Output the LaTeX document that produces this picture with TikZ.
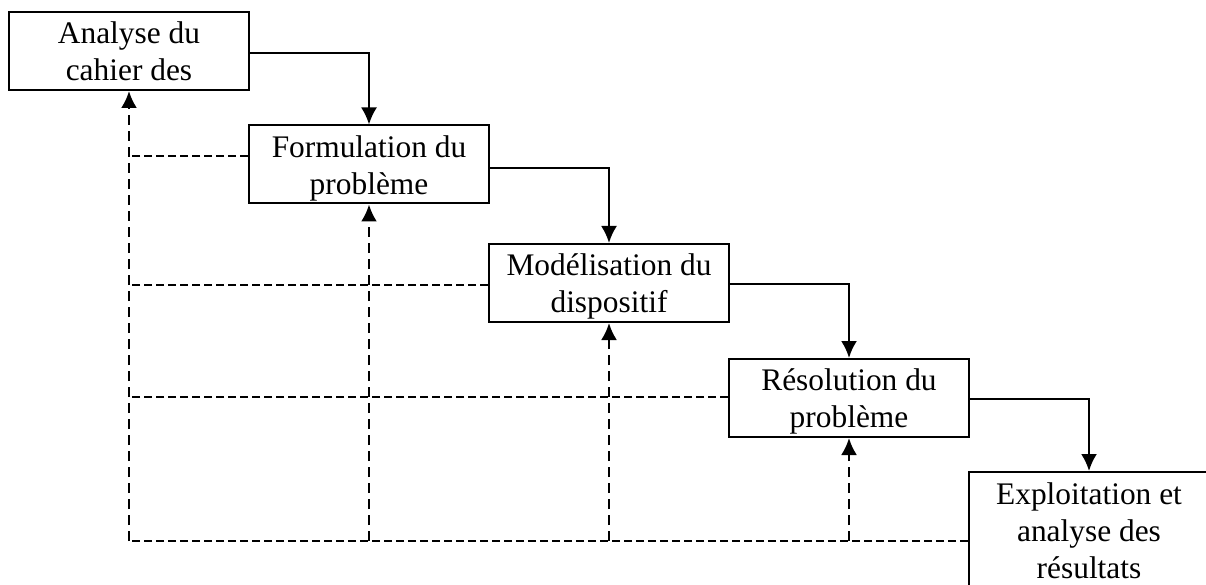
\documentclass[tikz,border=0pt]{standalone}
\usepackage{fontspec}
\setmainfont{Liberation Serif}
\usetikzlibrary{arrows.meta}

\tikzset{
	boite/.style={draw, line width=2pt, minimum width=240pt, minimum height=78pt, inner sep=0pt, align=center, text height=59.5pt, text depth=0pt, font=\fontsize{31.4}{37}\selectfont},
	suite/.style={line width=2.3pt, -{Latex[length=17pt,width=16pt]}},
	retour/.style={line width=1.7pt, dash pattern=on 8pt off 4pt},
	montee/.style={line width=2.5pt, dash pattern=on 10pt off 6pt, -{Latex[length=17pt,width=16pt]}}
}

\begin{document}
\begin{tikzpicture}[x=1pt, y=-1pt]
		\useasboundingbox (0,0) rectangle (1206,585);
		
		% Etapes
		\node[boite] (analyse) at (129,51) {Analyse du\\cahier des};
		\node[boite] (formul) at (369,164.5) {Formulation du\\problème};
		\node[boite] (model) at (609,283) {Modélisation du\\dispositif};
		\node[boite] (resol) at (849,398) {Résolution du\\problème};
		\node[boite, minimum height=122pt, text height=91pt] (exploit) at (1089,533) {Exploitation et\\analyse des\\résultats};
		
		% Enchainement
		\draw[suite] ([yshift=-2pt]analyse.east) -| (formul.north);
		\draw[suite] ([yshift=-3.5pt]formul.east) -| (model.north);
		\draw[suite] ([yshift=-1pt]model.east) -| (resol.north);
		\draw[suite] ([yshift=-1pt]resol.east) -| (exploit.north);
		
		% Retours
		\coordinate (coin) at (129,541);
		\draw[retour] (exploit.west |- coin) -- (coin);
		\draw[montee] (coin) -- (analyse.south);
		\foreach \etape in {formul, model, resol}{
			\draw[montee] (\etape.south |- coin) -- (\etape.south);}
		\foreach \etape/\dy in {formul/8.5, model/-2, resol/1}{
			\draw[retour] ([yshift=\dy pt]\etape.west) -- ([yshift=\dy pt]\etape.west -| coin);}
	\end{tikzpicture}
\end{document}
